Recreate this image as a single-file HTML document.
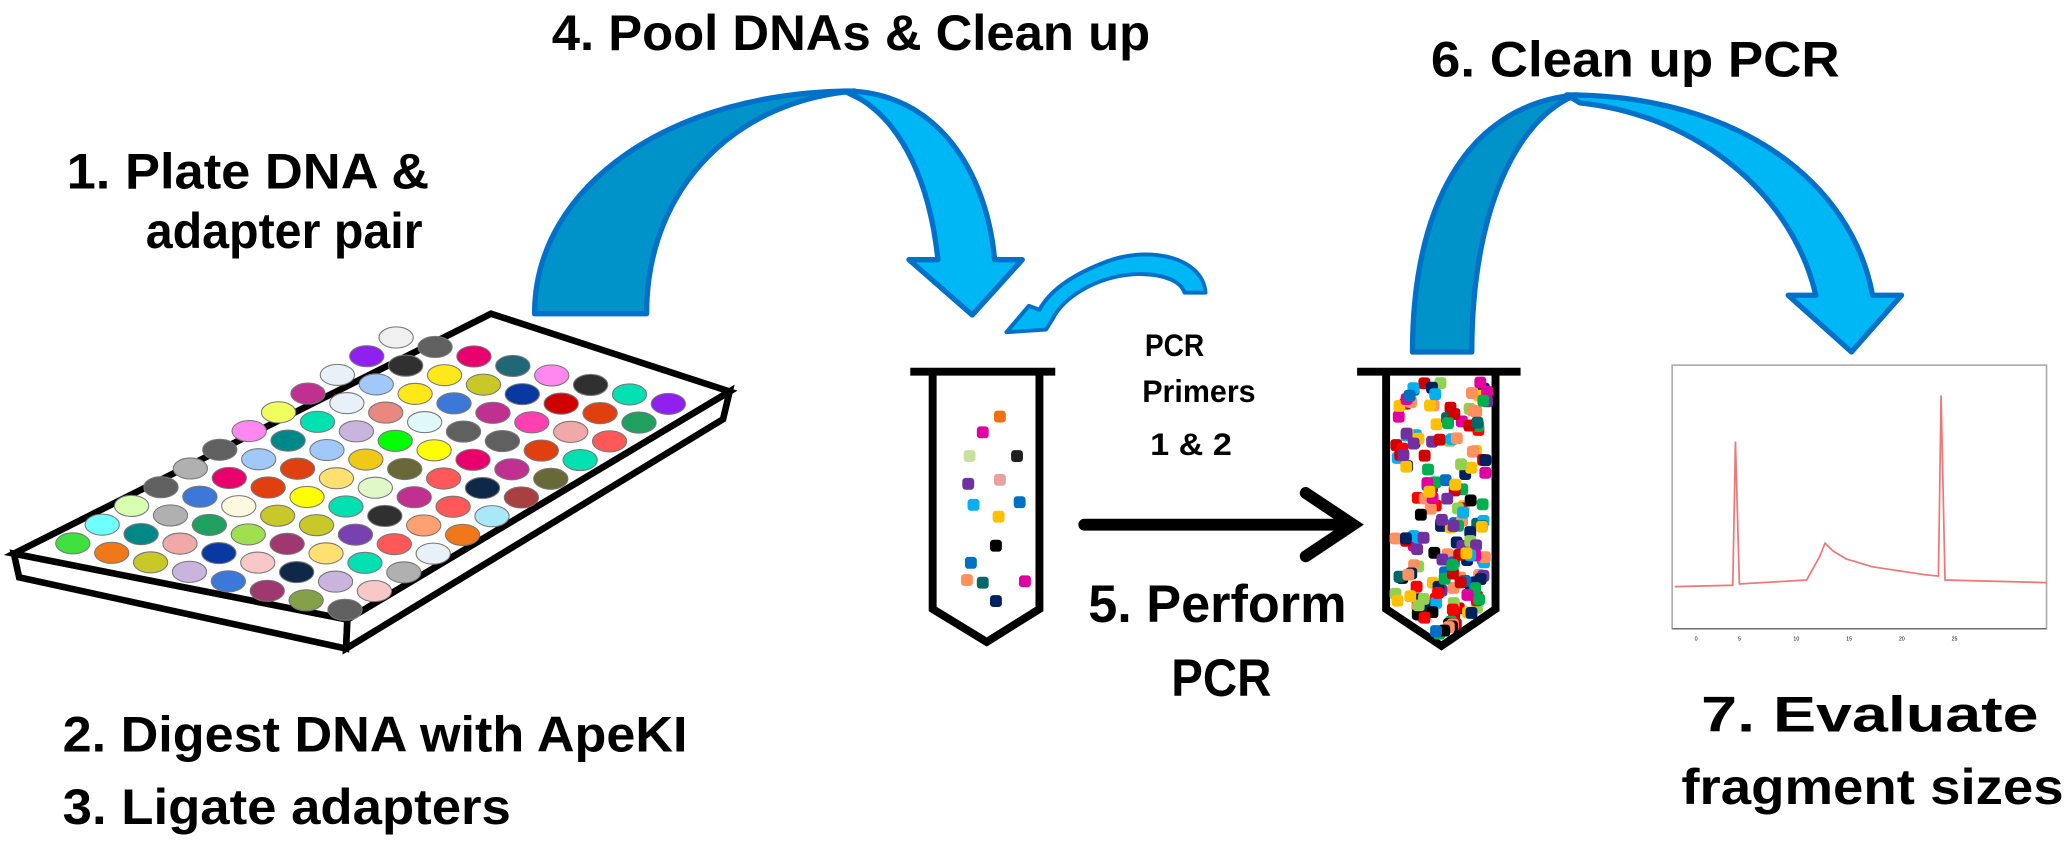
<!DOCTYPE html>
<html><head><meta charset="utf-8">
<style>
html,body{margin:0;padding:0;background:#fff;}
svg{display:block;}
text{font-family:"Liberation Sans",sans-serif;font-weight:bold;fill:#000;}
</style></head>
<body>
<svg id="s" width="2067" height="841" viewBox="0 0 1567 638" xmlns="http://www.w3.org/2000/svg">
<rect width="1567" height="638" fill="#fff"/>
<!-- labels -->
<text x="418" y="38" font-size="38" textLength="454" lengthAdjust="spacingAndGlyphs">4. Pool DNAs &amp; Clean up</text>
<text x="50" y="143" font-size="38" textLength="275" lengthAdjust="spacingAndGlyphs">1. Plate DNA &amp;</text>
<text x="110" y="188" font-size="38" textLength="210" lengthAdjust="spacingAndGlyphs">adapter pair</text>
<text x="1085" y="58" font-size="38" textLength="310" lengthAdjust="spacingAndGlyphs">6. Clean up PCR</text>
<text x="868" y="270" font-size="24" textLength="45" lengthAdjust="spacingAndGlyphs">PCR</text>
<text x="866" y="305" font-size="24" textLength="86" lengthAdjust="spacingAndGlyphs">Primers</text>
<text x="872" y="345" font-size="24" textLength="62" lengthAdjust="spacingAndGlyphs">1 &amp; 2</text>
<text x="825" y="472" font-size="40" textLength="196" lengthAdjust="spacingAndGlyphs">5. Perform</text>
<text x="888" y="528" font-size="40" textLength="76" lengthAdjust="spacingAndGlyphs">PCR</text>
<text x="47" y="570" font-size="38" textLength="474" lengthAdjust="spacingAndGlyphs">2. Digest DNA with ApeKI</text>
<text x="47" y="625" font-size="38" textLength="340" lengthAdjust="spacingAndGlyphs">3. Ligate adapters</text>
<text x="1290" y="555" font-size="38" textLength="256" lengthAdjust="spacingAndGlyphs">7.  Evaluate</text>
<text x="1275" y="610" font-size="38" textLength="290" lengthAdjust="spacingAndGlyphs">fragment sizes</text>

<!-- plate -->
<g stroke="#000" stroke-width="5" stroke-linejoin="miter" fill="#fff">
<polygon points="10,420 263,470 262,492 14,438"/>
<polygon points="263,470 553,297 548,318 262,492"/>
<polygon points="372,238 553,297 263,470 10,420"/>
</g>
<g id="wells" stroke="#777" stroke-width="0.8"></g>

<!-- big arrow 1 -->
<g stroke="#0070c8" stroke-width="4" stroke-linejoin="round">
<path d="M405,238 C405,140 510,69 648,69 C560,76 490,140 490,238 Z" fill="#0093c9"/>
<path d="M640,69 C710,69 748,130 754,197 L775,197 L737,239 L689,197 L711,197 C705,140 685,95 652,75 Z" fill="#00b7f5"/>
</g>
<!-- big arrow 2 -->
<g stroke="#0070c8" stroke-width="4" stroke-linejoin="round">
<path d="M1071,267 C1071,160 1110,80 1195,72 C1150,90 1116,160 1116,267 Z" fill="#0093c9"/>
<path d="M1188,72 C1320,72 1405,140 1420,224 L1442,224 L1404,267 L1356,224 L1377,224 C1360,150 1290,88 1198,78 Z" fill="#00b7f5"/>
</g>
<!-- small arrow -->
<g stroke="#0070c8" stroke-width="3" stroke-linejoin="round" fill="#00b7f5">
<path d="M914,222 C912,195 870,185 835,200 C810,210 795,222 788,235 L780,232 L763,252 L793,250 L798,242 C806,226 830,210 860,208 C885,207 896,215 898,222 Z"/>
</g>

<!-- tube 1 -->
<g stroke="#000" stroke-width="6" fill="none">
<line x1="690" y1="282" x2="800" y2="282"/>
<polyline points="707,282 707,462 748,487 788,462 788,282"/>
</g>
<g id="d1"></g>
<!-- tube 2 -->
<g stroke="#000" stroke-width="6" fill="none">
<line x1="1029" y1="282" x2="1153" y2="282"/>
<polyline points="1051,282 1051,462 1093,490 1134,462 1134,282"/>
</g>
<g id="d2"></g>

<!-- black arrow -->
<g stroke="#000" stroke-width="9" stroke-linecap="round" fill="none">
<line x1="822" y1="398" x2="1022" y2="398"/>
<polyline points="990,374 1026,398 990,422"/>
</g>

<!-- chart -->
<g>
<rect x="1268" y="277" width="284" height="200" fill="#fff" stroke="#aaa" stroke-width="1.2"/>
<line x1="1268" y1="477" x2="1552" y2="477" stroke="#666" stroke-width="1"/>
<path d="M1270,445 L1314,444 L1316,335 L1319,443 L1370,440 L1380,422 L1384,412 L1390,418 L1400,424 L1420,430 L1460,436 L1470,437 L1472,300 L1475,440 L1552,442" fill="none" stroke="#e77" stroke-width="1.3"/>
<g fill="#999" font-size="4"><text x="1285" y="486" style="font-weight:normal">0</text><text x="1318" y="486" style="font-weight:normal">5</text><text x="1360" y="486" style="font-weight:normal">10</text><text x="1400" y="486" style="font-weight:normal">15</text><text x="1440" y="486" style="font-weight:normal">20</text><text x="1480" y="486" style="font-weight:normal">25</text></g>
</g>
</svg>
<script>
(function(){
var NS="http://www.w3.org/2000/svg";
var seed=7;function r(){seed=(seed*16807)%2147483647;return (seed-1)/2147483646;}
var wc=["#f0f0f0","#8c8c8c","#d8d2a8","#a0c8f8","#f8c8c8","#a09868","#5a9ee8","#f0a8a8","#84a048","#c8b4dc","#a8e8f8","#101010","#a84040","#206878","#f07818","#d00000","#a0e050","#f0c818","#e8006c","#00ff00","#0000d8","#00e0b0","#ffe070","#e04010","#00c060","#b0b0b0","#102848","#ffff00","#ff0000","#3c78d8","#e00898","#00c8f0","#ff5858","#7840b0","#303030","#686838","#e0f8f8","#a03870","#006868","#ffa070","#c8c828","#e88880","#e0f8c8","#ffe818","#e8f0f8","#20a060","#ff88f0","#90a0d8","#9020f0","#ffe0f8","#70ffff","#ff40b0","#0838a0","#f0ff60","#a8c8b0","#fff8e0","#008888","#ffc0c0","#606060","#c03090","#d8ffb0","#5080c0","#802080","#40e040"];
var g=document.getElementById("wells");
for(var i=0;i<12;i++)for(var j=0;j<8;j++){
 var x=300-22.3*i+29.5*j, y=256+14.2*i+7.2*j;
 var e=document.createElementNS(NS,"ellipse");
 e.setAttribute("cx",x);e.setAttribute("cy",y);e.setAttribute("rx",13);e.setAttribute("ry",8);
 e.setAttribute("fill",wc[Math.floor(r()*wc.length)]);g.appendChild(e);}
var dc=["#d00000","#e000a0","#00b050","#ff9060","#006868","#7030a0","#0070c0","#00b0f0","#ffc000","#002060","#000","#92d050","#ff0000"];
function dots(id,n,x0,x1,y0,y1,cx,by){var G=document.getElementById(id);
 for(var k=0;k<n;k++){var x=x0+r()*(x1-x0),y=y0+r()*(y1-y0);
  if(y>y1-25){var w=(y1-y)/25;var half=(x1-x0)/2*w;if(Math.abs(x-cx)>half)x=cx+(x-cx)*w;}
  var q=document.createElementNS(NS,"rect");q.setAttribute("x",x-4.5);q.setAttribute("y",y-4.5);
  q.setAttribute("width",9);q.setAttribute("height",9);q.setAttribute("rx",2.5);
  q.setAttribute("fill",dc[Math.floor(r()*dc.length)]);G.appendChild(q);}}
var G1=document.getElementById("d1");
var p=[[758,316,"#f07010"],[745,328,"#e000a0"],[735,346,"#c8e0a0"],[771,346,"#202020"],[734,367,"#7030a0"],[758,364,"#e8a0a0"],[773,381,"#0070c0"],[738,383,"#00b0f0"],[757,392,"#ffc000"],[755,414,"#000"],[736,427,"#0070c0"],[733,440,"#ff9060"],[745,442,"#006868"],[777,441,"#e000a0"],[755,456,"#002060"]];
p.forEach(function(a){var q=document.createElementNS(NS,"rect");q.setAttribute("x",a[0]-4.5);q.setAttribute("y",a[1]-4.5);q.setAttribute("width",9);q.setAttribute("height",9);q.setAttribute("rx",2.5);q.setAttribute("fill",a[2]);G1.appendChild(q);});
dots("d2",190,1058,1128,290,482,1093);
})();
</script>
</body></html>
